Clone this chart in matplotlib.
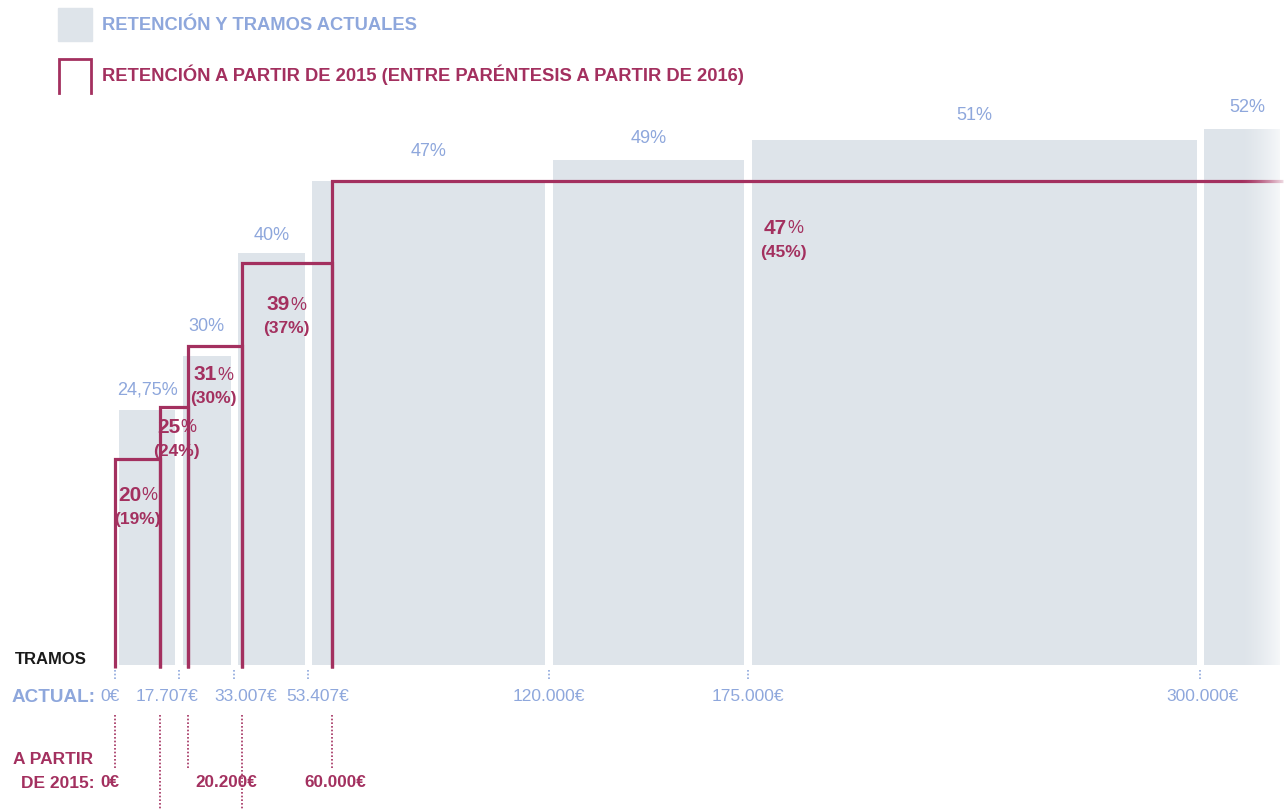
import numpy as np
import matplotlib.pyplot as plt

plt.rcParams['font.family'] = ['Liberation Sans', 'DejaVu Sans']

# tramos actuales (euros) y retencion (%)
tramos_actual = [0, 17707, 33007, 53407, 120000, 175000, 300000]
ret_actual = [24.75, 30, 40, 47, 49, 51, 52]
etiq_actual = ['24,75%', '30%', '40%', '47%', '49%', '51%', '52%']
ticks_actual = ['0€', '17.707€', '33.007€', '53.407€', '120.000€', '175.000€', '300.000€']

# tramos a partir de 2015, retencion 2015 y (2016)
tramos_2015 = [0, 12450, 20200, 35200, 60000]
ret_2015 = [20, 25, 31, 39, 47]
ret_2016 = [19, 24, 30, 37, 45]
ticks_2015 = {0: '0€', 20200: '20.200€', 60000: '60.000€'}

fin = 323000
GRIS = '#dee4ea'
ROJO = '#a3305f'
AZUL = '#8ea7dc'

fig = plt.figure(figsize=(12.87, 8.09), dpi=100)
ax = fig.add_axes([0, 0, 1, 1])
ax.axis('off')

# barras grises (tramos actuales) con hueco blanco
bordes = np.array(tramos_actual + [fin])
ax.bar(bordes[:-1] + 1000, ret_actual, width=np.diff(bordes) - 2000,
       align='edge', color=GRIS, zorder=1)

# posicion de etiquetas grises: encima de la barra o de la linea roja
etiq_x = (bordes[:-1] + bordes[1:]) / 2
etiq_x[-1] = 313000
etiq_y = [26.7, 32.9, 41.7, 49.9, 51.1, 53.3, 54.1]
for x, y, t in zip(etiq_x, etiq_y, etiq_actual):
    ax.text(x, y, t, color=AZUL, fontsize=13, ha='center', va='center')

# contorno rojo (tramos 2015)
bn = tramos_2015 + [fin]
for i, r in enumerate(ret_2015):
    x0, x1 = bn[i], bn[i + 1]
    if i < len(ret_2015) - 1:
        xs, ys = [x0, x0, x1, x1], [-0.3, r, r, -0.3]
    else:
        xs, ys = [x0, x0, x1], [-0.3, r, r]
    ax.plot(xs, ys, color=ROJO, lw=2.3, zorder=3,
            solid_joinstyle='miter', solid_capstyle='butt')

# etiquetas rojas
rojo_x = [6082, 16865, 27094, 47276, 184683]
rojo_y = [16.5, 23.1, 28.2, 35.0, 42.4]
for x, y, a, b in zip(rojo_x, rojo_y, ret_2015, ret_2016):
    ax.annotate(str(a), (x, y), xytext=(3, 0), textcoords='offset points',
                ha='right', va='center', color=ROJO, fontsize=15,
                fontweight='bold', zorder=4)
    ax.annotate('%', (x, y), xytext=(3, -0.5), textcoords='offset points',
                ha='left', va='center', color=ROJO, fontsize=13, zorder=4)
    ax.text(x, y - 2.35, '(%d%%)' % b, color=ROJO, fontsize=12.5,
            fontweight='bold', ha='center', va='center', zorder=4)

# degradado a blanco en el borde derecho
grad = np.ones((1, 60, 4))
grad[..., 3] = np.linspace(0, 1, 60) ** 1.5
ax.imshow(grad, extent=[311000, 324500, -0.5, 53], aspect='auto', zorder=5)

ax.set_xlim(-31800, 324000)
ax.set_ylim(-13.98, 64.56)

# marcas punteadas y etiquetas del eje
desp_actual = [-5, -12, 11, 10, 0, 0, 2]
for v, t, d in zip(tramos_actual, ticks_actual, desp_actual):
    ax.plot([v, v], [-0.5, -1.6], color=AZUL, lw=1.2, ls=(0, (1, 1.2)))
    ax.annotate(t, (v, -3.1), xytext=(d * 0.72, 0), textcoords='offset points',
                ha='center', va='center', color=AZUL, fontsize=12.5)

desp_2015 = {0: -5, 20200: 38, 60000: 3}
for v in tramos_2015:
    fin_y = -10.0 if v in ticks_2015 else -14.5
    ax.plot([v, v], [-4.9, fin_y], color=ROJO, lw=1.2, ls=(0, (1, 1.2)))
    if v in ticks_2015:
        ax.annotate(ticks_2015[v], (v, -11.45), xytext=(desp_2015[v] * 0.72, 0),
                    textcoords='offset points', ha='center', va='center',
                    color=ROJO, fontsize=12.3, fontweight='bold')

fig.text(15 / 1287, 1 - 660 / 809, 'TRAMOS', fontsize=12, fontweight='bold',
         color='#1a1a1a', ha='left', va='center')
fig.text(12 / 1287, 1 - 697 / 809, 'ACTUAL:', fontsize=13.6, fontweight='bold',
         color=AZUL, ha='left', va='center')
fig.text(93 / 1287, 1 - 760 / 809, 'A PARTIR', fontsize=12.5, fontweight='bold',
         color=ROJO, ha='right', va='center')
fig.text(95 / 1287, 1 - 783 / 809, 'DE 2015:', fontsize=12.5, fontweight='bold',
         color=ROJO, ha='right', va='center')

# leyenda
fig.patches.append(plt.Rectangle((58 / 1287, 1 - 41 / 809), 34 / 1287, 33 / 809,
                                 transform=fig.transFigure, color=GRIS))
fig.lines.append(plt.Line2D([59 / 1287, 59 / 1287, 91 / 1287, 91 / 1287],
                            [1 - 93 / 809, 1 - 59 / 809, 1 - 59 / 809, 1 - 93 / 809],
                            transform=fig.transFigure, color=ROJO, lw=2,
                            solid_joinstyle='miter'))
fig.text(102 / 1287, 1 - 25 / 809, 'RETENCIÓN Y TRAMOS ACTUALES', fontsize=13.2,
         fontweight='bold', color=AZUL, ha='left', va='center')
fig.text(102 / 1287, 1 - 75 / 809,
         'RETENCIÓN A PARTIR DE 2015 (ENTRE PARÉNTESIS A PARTIR DE 2016)',
         fontsize=13.2, fontweight='bold', color=ROJO, ha='left', va='center')

fig.savefig('out.png', dpi=100)
